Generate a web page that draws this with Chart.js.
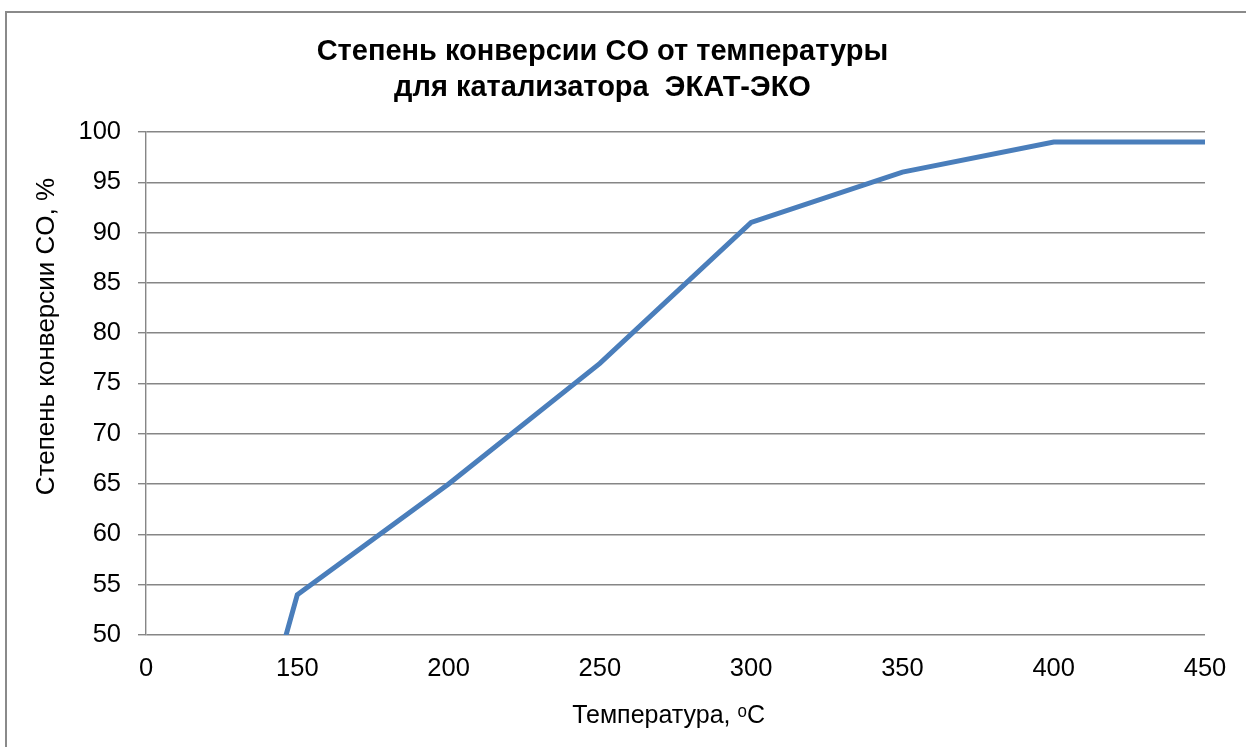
<!DOCTYPE html>
<html>
<head>
<meta charset="utf-8">
<script src="https://cdn.jsdelivr.net/npm/chart.js@4.4.1/dist/chart.umd.min.js"></script>
<style>
  html, body { margin: 0; padding: 0; background: #fff; }
  #wrap { position: relative; width: 1246px; height: 747px; overflow: hidden; }
  #frame { position: absolute; left: 5px; top: 11px; width: 1300px; height: 800px;
           border-left: 2px solid #8a8a8a; border-top: 2px solid #8a8a8a; }
  canvas { position: absolute; left: 0; top: 0; }
</style>
</head>
<body>
<div id="wrap">
  <div id="frame"></div>
  <canvas id="chart" width="1246" height="747"></canvas>
</div>
<script>
// Данные
const temperatures = ['0', '150', '200', '250', '300', '350', '400', '450'];
const conversion = [0, 54, 65, 77, 91, 96, 99, 99];
const titleLines = ['Степень конверсии CO от температуры', 'для катализатора  ЭКАТ-ЭКО'];
// пробелы сдвигают подписи осей так же, как в исходнике
const xTitle = 'Температура, ᵒC  ';
const yTitle = '             Степень конверсии CO, %';

const FONT = "'Liberation Sans', Arial, sans-serif";
const GRID = '#868686';

const ctx = document.getElementById('chart');
new Chart(ctx.getContext('2d'), {
  type: 'line',
  data: {
    labels: temperatures,
    datasets: [{
      label: 'Степень конверсии CO, %',
      data: conversion,
      borderColor: '#4A7EBB',
      borderWidth: 5,
      pointRadius: 0,
      tension: 0,
      fill: false
    }]
  },
  options: {
    responsive: false,
    animation: false,
    layout: { padding: { left: 0, right: 41, top: 0, bottom: 0 } },
    plugins: {
      legend: { display: false },
      tooltip: { enabled: false },
      title: {
        display: true,
        text: titleLines,
        color: '#000',
        font: { family: FONT, size: 29, weight: 'bold', lineHeight: 1.24 },
        padding: { top: 34, bottom: 26 }
      }
    },
    scales: {
      x: {
        type: 'category',
        offset: false,
        grid: { display: false, drawTicks: false },
        border: { display: false },
        ticks: { color: '#000', font: { family: FONT, size: 25.5 }, padding: 19, maxRotation: 0, autoSkip: false },
        title: {
          display: true, text: xTitle, color: '#000',
          font: { family: FONT, size: 25 }, padding: { top: 0, bottom: 16 }
        },
        afterFit: (scale) => { scale.height = 112; }
      },
      y: {
        min: 50, max: 100,
        grid: { color: GRID, lineWidth: 1.4, tickLength: 8, drawTicks: true },
        border: { color: GRID, width: 1.4 },
        ticks: { stepSize: 5, color: '#000', font: { family: FONT, size: 25.5 }, padding: 17 },
        title: {
          display: true, text: yTitle, color: '#000',
          font: { family: FONT, size: 26 }, padding: { top: 31, bottom: 0 }
        },
        afterFit: (scale) => { scale.width = 146; }
      }
    }
  }
});
</script>
</body>
</html>
